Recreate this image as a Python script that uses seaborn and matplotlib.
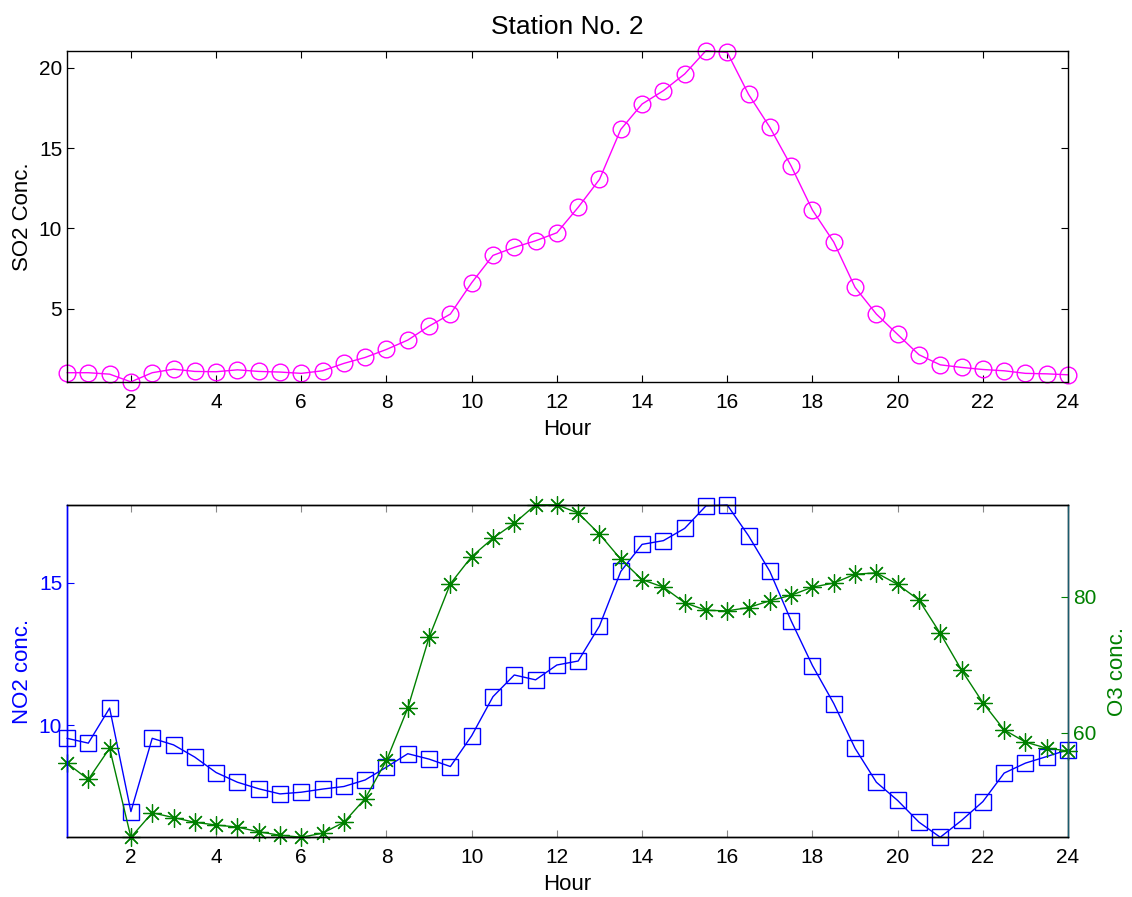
import numpy as np
import matplotlib
matplotlib.use('Agg')
import matplotlib.pyplot as plt
import pandas as pd
import seaborn as sns

# hourly readings, half-hour steps
hours = [0.5, 1.0, 1.5, 2.0, 2.5, 3.0, 3.5, 4.0, 4.5, 5.0, 5.5, 6.0,
         6.5, 7.0, 7.5, 8.0, 8.5, 9.0, 9.5, 10.0, 10.5, 11.0, 11.5, 12.0,
         12.5, 13.0, 13.5, 14.0, 14.5, 15.0, 15.5, 16.0, 16.5, 17.0, 17.5, 18.0,
         18.5, 19.0, 19.5, 20.0, 20.5, 21.0, 21.5, 22.0, 22.5, 23.0, 23.5, 24.0]
so2 = [1.02, 1.02, 0.93, 0.45, 1.02, 1.24, 1.10, 1.08, 1.20, 1.10, 1.06, 0.98,
       1.14, 1.60, 1.97, 2.47, 3.05, 3.92, 4.67, 6.62, 8.32, 8.82, 9.23, 9.73,
       11.31, 13.05, 16.16, 17.74, 18.57, 19.61, 21.06, 20.95, 18.34, 16.29, 13.88, 11.14,
       9.15, 6.33, 4.67, 3.40, 2.14, 1.51, 1.35, 1.22, 1.14, 0.98, 0.95, 0.89]
no2 = [9.54, 9.37, 10.60, 6.97, 9.54, 9.31, 8.88, 8.34, 8.00, 7.77, 7.59, 7.65,
       7.76, 7.85, 8.08, 8.53, 9.00, 8.81, 8.55, 9.63, 11.00, 11.76, 11.59, 12.11,
       12.25, 13.48, 15.39, 16.34, 16.47, 16.90, 17.69, 17.72, 16.64, 15.39, 13.66, 12.09,
       10.76, 9.19, 8.00, 7.36, 6.60, 6.07, 6.66, 7.32, 8.32, 8.67, 8.90, 9.14]
o3 = [55.5, 53.1, 57.7, 44.6, 48.2, 47.5, 46.8, 46.4, 46.1, 45.4, 44.9, 44.6,
      45.2, 46.8, 50.3, 55.9, 63.6, 74.0, 81.9, 85.9, 88.6, 90.8, 93.5, 93.5,
      92.3, 89.2, 85.5, 82.5, 81.4, 79.1, 78.0, 77.9, 78.4, 79.4, 80.2, 81.4,
      82.0, 83.3, 83.5, 81.8, 79.5, 74.6, 69.2, 64.4, 60.4, 58.6, 57.7, 57.3]

df = pd.DataFrame({'Hour': hours, 'SO2': so2, 'NO2': no2, 'O3': o3})

sns.set_style('ticks')
plt.rcParams['font.family'] = ['Liberation Sans', 'DejaVu Sans']
plt.rcParams['font.size'] = 15
plt.rcParams['text.color'] = 'black'
plt.rcParams['axes.labelcolor'] = 'black'
plt.rcParams['axes.edgecolor'] = 'black'
plt.rcParams['xtick.color'] = 'black'
plt.rcParams['ytick.color'] = 'black'
plt.rcParams['xtick.direction'] = 'in'
plt.rcParams['ytick.direction'] = 'in'
plt.rcParams['xtick.major.size'] = 5
plt.rcParams['ytick.major.size'] = 5
plt.rcParams['xtick.major.pad'] = 8

magenta = '#ff00ff'
blue = '#0000ff'
green = '#008000'

fig = plt.figure(figsize=(11.32, 8.97), dpi=100)
ax1 = fig.add_axes([0.0592, 0.5741, 0.8843, 0.3694])
ax2 = fig.add_axes([0.0592, 0.0666, 0.8843, 0.3704])

# top panel: SO2
sns.lineplot(data=df, x='Hour', y='SO2', ax=ax1, color=magenta, linewidth=1,
             marker='o', markersize=12, markerfacecolor='none',
             markeredgecolor=magenta, markeredgewidth=1, clip_on=False)
ax1.set_xlim(0.5, 24)
ax1.set_ylim(0.44, 21.06)
ax1.set_xticks(range(2, 25, 2))
ax1.set_yticks([5, 10, 15, 20])
ax1.set_xlabel('Hour', fontsize=16, labelpad=5)
ax1.set_ylabel('SO2 Conc.', fontsize=16)
ax1.set_title('Station No. 2', fontsize=19, pad=12)
ax1.tick_params(top=True, right=True, labelsize=15, width=0.8)
for s in ax1.spines.values():
    s.set_linewidth(1)

# bottom panel: NO2 (left) and O3 (right)
sns.lineplot(data=df, x='Hour', y='NO2', ax=ax2, color=blue, linewidth=1,
             marker='s', markersize=11, markerfacecolor='none',
             markeredgecolor=blue, markeredgewidth=1, clip_on=False)
ax3 = ax2.twinx()
sns.lineplot(data=df, x='Hour', y='O3', ax=ax3, color=green, linewidth=1,
             marker=(8, 2, 0), markersize=13, markeredgecolor=green,
             markeredgewidth=0.9, clip_on=False)
ax2.set_xlim(0.5, 24)
ax2.set_ylim(6.07, 17.72)
ax3.set_ylim(44.6, 93.48)
ax2.set_xticks(range(2, 25, 2))
ax2.set_yticks([10, 15])
ax3.set_yticks([60, 80])
ax2.set_xlabel('Hour', fontsize=16, labelpad=5)
ax2.set_ylabel('NO2 conc.', fontsize=16, color=blue)
ax3.set_ylabel('O3 conc.', fontsize=16, color=green, labelpad=8)
ax2.tick_params(axis='y', colors=blue, labelsize=15, width=0.8)
ax2.tick_params(axis='x', top=True, labelsize=15, width=0.8, color='#888888')
ax3.tick_params(axis='y', colors=green, labelsize=15, width=0.8)
ax2.spines['left'].set_color(blue)
ax3.spines['left'].set_color(blue)
ax3.spines['right'].set_color('#1a5c6e')
for a in (ax2, ax3):
    for s in a.spines.values():
        s.set_linewidth(1)

fig.savefig('out.png', dpi=100)
